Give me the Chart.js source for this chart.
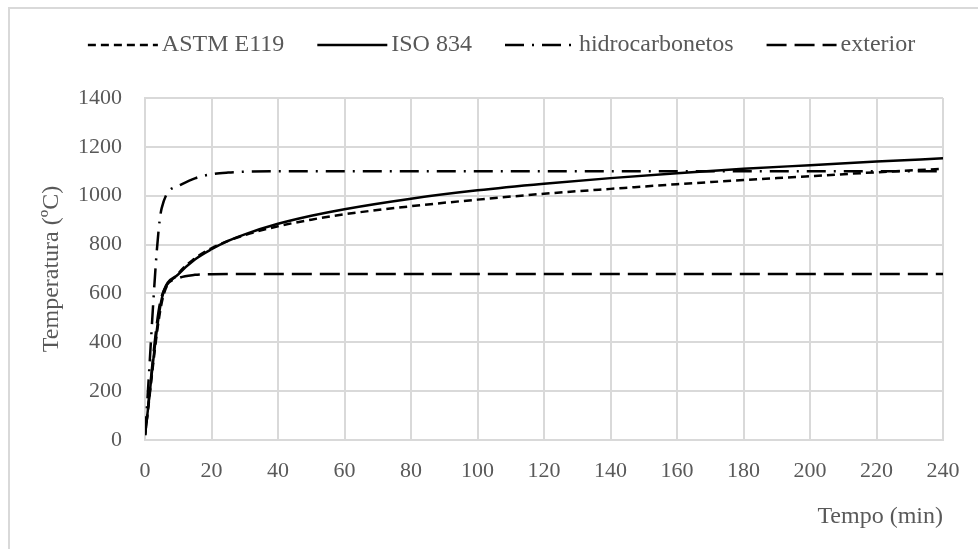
<!DOCTYPE html>
<html>
<head>
<meta charset="utf-8">
<script src="https://cdn.jsdelivr.net/npm/chart.js@4"></script>
<style>
  html, body { margin: 0; padding: 0; background: #fff; }
  #wrap { position: relative; width: 978px; height: 549px; overflow: hidden; }
  #frame { position: absolute; left: 8px; top: 7px; width: 1000px; height: 600px;
           border-left: 2px solid #d9d9d9; border-top: 2px solid #d9d9d9; }
  canvas#c { position: absolute; left: 0; top: 0; }
</style>
</head>
<body>
<div id="wrap">
  <div id="frame"></div>
  <canvas id="c" width="978" height="549"></canvas>
</div>
<script>
// Time (min)
const times = [0, 5, 10, 15, 20, 25, 30, 40, 50, 60, 80, 100, 120, 140, 160, 180, 200, 220, 240];
// Temperatures (ºC)
const astmE119 = [20, 560, 680, 743, 785, 815, 839, 875, 902, 924, 957, 984, 1008, 1028, 1047, 1064, 1080, 1096, 1110];
const iso834 = [20, 576, 678, 739, 781, 815, 842, 885, 918, 945, 988, 1022, 1049, 1072, 1092, 1110, 1125, 1140, 1153];
const hidrocarbonetos = [20, 948, 1040, 1071, 1088, 1095, 1098, 1100, 1100, 1100, 1100, 1100, 1100, 1100, 1100, 1100, 1100, 1100, 1100];
const exterior = [20, 588, 662, 676, 679, 680, 680, 680, 680, 680, 680, 680, 680, 680, 680, 680, 680, 680, 680];
const seriesNames = ['ASTM E119', 'ISO 834', 'hidrocarbonetos', 'exterior'];
const xTicks = [0, 20, 40, 60, 80, 100, 120, 140, 160, 180, 200, 220, 240];
const yTicks = [0, 200, 400, 600, 800, 1000, 1200, 1400];

const pts = arr => times.map((t, i) => ({ x: t, y: arr[i] }));
const FONT = "'Liberation Serif', 'Times New Roman', serif";
const TXT = '#595959';
const GRID = '#d9d9d9';
const LW = 2.5;

// small legend sample image with the series' line style
function sample(dash) {
  const c = document.createElement('canvas');
  c.width = 80; c.height = 6;
  const g = c.getContext('2d');
  g.strokeStyle = '#000'; g.lineWidth = LW; g.lineCap = 'butt';
  g.setLineDash(dash);
  g.beginPath(); g.moveTo(9, 3); g.lineTo(79, 3); g.stroke();
  return c;
}

function mk(label, arr, dash) {
  return {
    label, data: pts(arr), borderColor: '#000', backgroundColor: '#000',
    borderWidth: LW, borderDash: dash, pointRadius: 0, pointHoverRadius: 0,
    pointStyle: sample(dash),
    fill: false, cubicInterpolationMode: 'monotone', borderCapStyle: 'butt'
  };
}

new Chart(document.getElementById('c'), {
  type: 'line',
  data: {
    datasets: [
      mk(seriesNames[0], astmE119, [8, 5]),
      mk(seriesNames[1], iso834, []),
      mk(seriesNames[2], hidrocarbonetos, [19, 8, 2, 8]),
      mk(seriesNames[3], exterior, [20, 8])
    ]
  },
  options: {
    responsive: false,
    animation: false,
    events: [],
    layout: { padding: { left: 25, right: 0, top: 0, bottom: 0 } },
    plugins: {
      tooltip: { enabled: false },
      legend: {
        position: 'top',
        labels: {
          usePointStyle: true, pointStyleWidth: 62,
          font: { family: FONT, size: 24 }, color: TXT, padding: 33
        }
      }
    },
    scales: {
      x: {
        type: 'linear', min: 0, max: 240,
        afterBuildTicks: s => { s.ticks = xTicks.map(v => ({ value: v })); },
        ticks: { font: { family: FONT, size: 22 }, color: TXT, padding: 18, maxRotation: 0,
                 callback: v => String(v) },
        grid: { color: GRID, lineWidth: 2, drawTicks: false },
        border: { color: GRID, width: 2 },
        title: { display: true, text: 'Tempo (min)', align: 'end', color: TXT,
                 font: { family: FONT, size: 24 }, padding: { top: 0, bottom: 18 } },
        afterFit: s => { s.height = 109; }
      },
      xTop: {
        type: 'linear', position: 'top', display: true,
        grid: { display: false }, ticks: { display: false }, border: { display: false },
        afterFit: s => { s.height = 31; }
      },
      y: {
        type: 'linear', min: 0, max: 1400,
        afterBuildTicks: s => { s.ticks = yTicks.map(v => ({ value: v })); },
        ticks: { font: { family: FONT, size: 22 }, color: TXT, padding: 23,
                 callback: v => String(v) },
        grid: { color: GRID, lineWidth: 2, drawTicks: false },
        border: { color: GRID, width: 2 },
        title: { display: true, text: 'Temperatura (ºC)', color: TXT,
                 font: { family: FONT, size: 24 }, padding: { top: 12, bottom: 0 } },
        afterFit: s => { s.width = 120; }
      },
      yR: {
        type: 'linear', position: 'right', display: true,
        grid: { display: false }, ticks: { display: false }, border: { display: false },
        afterFit: s => { s.width = 35; }
      }
    }
  }
});
</script>
</body>
</html>
